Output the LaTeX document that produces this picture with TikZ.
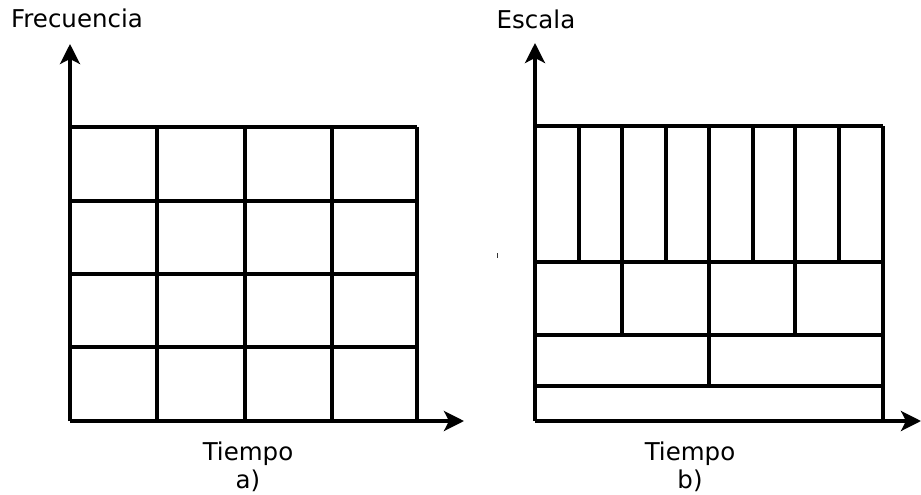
\documentclass[tikz,border=0pt]{standalone}
\usepackage{fontspec}
\setmainfont{DejaVu Sans}
\usetikzlibrary{arrows.meta}
\begin{document}
\begin{tikzpicture}[x=1pt,y=-1pt,
  gridline/.style={line width=3.4pt},
  axisline/.style={line width=3.4pt,-{Stealth[length=20pt,width=20pt,inset=5pt]}},
  lbl/.style={font=\fontsize{24.5}{29}\selectfont,anchor=base,inner sep=0pt}]
\useasboundingbox (0,0) rectangle (921,495);
% ---------- a) ----------
\coordinate (oa) at (70,421);
\coordinate (ya) at (70,44);
\coordinate (xa) at (464,421);
\foreach \y in {127,201,274,347}
  \draw[gridline] (70,\y) -- (417,\y);
\foreach \x in {157,245,332,417}
  \draw[gridline] (\x,127) -- (\x,421);
\draw[axisline] (oa) -- (ya);
\draw[axisline] (oa) -- (xa);
\node[lbl] (fa) at (77,28) {Frecuencia};
\node[lbl] (ta) at (248,460) {Tiempo};
\node[lbl] (la) at (248,488) {a)};
% ---------- b) ----------
\coordinate (ob) at (535,421);
\coordinate (yb) at (535,43);
\coordinate (xb) at (921,421);
\foreach \y in {126,262,335,386}
  \draw[gridline] (535,\y) -- (883,\y);
\foreach \x in {579,666,753,839}
  \draw[gridline] (\x,126) -- (\x,262);
\foreach \x in {622,795}
  \draw[gridline] (\x,126) -- (\x,335);
\draw[gridline] (709,126) -- (709,386);
\draw[gridline] (883,126) -- (883,421);
\draw[axisline] (ob) -- (yb);
\draw[axisline] (ob) -- (xb);
\node[lbl] (fb) at (536,29) {Escala};
\node[lbl] (tb) at (690,460) {Tiempo};
\node[lbl] (lb) at (690,488) {b)};
% small stray tick
\draw[line width=1pt,black!80] (497,253) -- (497,258);
\end{tikzpicture}
\end{document}
